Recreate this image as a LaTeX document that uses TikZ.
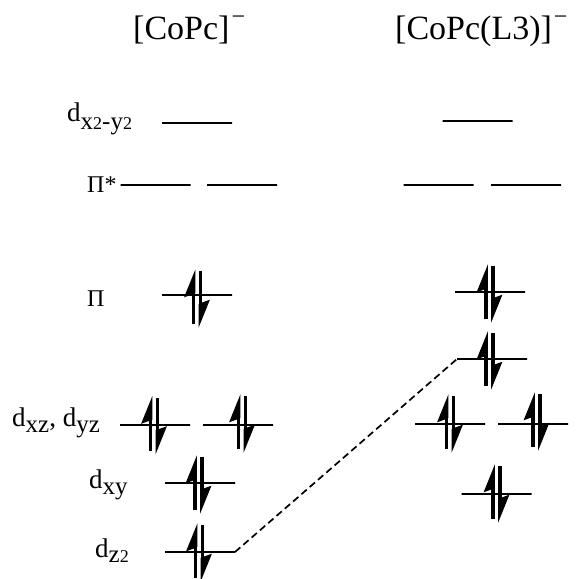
\documentclass[tikz,border=0pt]{standalone}
\usepackage{fontspec}
\setmainfont{Liberation Serif}
\usetikzlibrary{arrows.meta,calc}
\newcommand\orbsub[2][6pt]{\raisebox{-#1}{\fontsize{25}{25}\selectfont #2}}
\newcommand\smtwo{{\fontsize{18}{18}\selectfont 2}}
\newcommand\chargeminus{\kern2pt\raisebox{15pt}{\fontsize{24}{24}\selectfont −}}
\begin{document}
\begin{tikzpicture}[x=1pt,y=-1pt,
  lvl/.style={draw, line width=2pt, shape=rectangle, minimum width=70pt, minimum height=0pt, inner sep=0pt, outer sep=0pt},
  uparr/.style={line width=3.8pt, -{Stealth[harpoon,length=23pt,width=18pt,inset=3pt]}},
  dnarr/.style={line width=3.8pt, -{Stealth[harpoon,length=23pt,width=18pt,inset=3pt]}},
  lab/.style={anchor=base west, inner sep=0pt, font=\fontsize{27}{30}\selectfont},
  pilab/.style={anchor=base west, inner sep=0pt, font=\fontsize{24}{28}\selectfont},
  ttl/.style={anchor=base west, inner sep=0pt, font=\fontsize{34}{40}\selectfont},
  dashline/.style={line width=1.7pt, dash pattern=on 7pt off 4pt},
  pair/.pic={\draw[uparr] (-3.5,27) -- (-3.5,-28); \draw[dnarr] (3.5,-26) -- (3.5,31);}
]
\useasboundingbox (0,0) rectangle (579,579);
% titles
\node[ttl] (t1) at (133,39) {[CoPc]\chargeminus};
\node[ttl] (t2) at (395,39) {[CoPc(L3)]\chargeminus};
% left levels
\node[lvl] (Ldx) at (197,123) {};
\node[lvl] (Lps1) at (155.5,185) {};
\node[lvl] (Lps2) at (242,185) {};
\node[lvl] (Lpi) at (197,295) {};
\node[lvl] (Lxz1) at (155,425) {};
\node[lvl] (Lxz2) at (238,425) {};
\node[lvl] (Lxy) at (200,483) {};
\node[lvl] (Lz2) at (200,552) {};
% right levels
\node[lvl] (Rdx) at (477.5,121) {};
\node[lvl] (Rps1) at (438.5,185) {};
\node[lvl] (Rps2) at (526,185) {};
\node[lvl] (Rpi) at (490,292) {};
\node[lvl] (Rz2) at (492,359) {};
\node[lvl] (Rxz1) at (450,424) {};
\node[lvl] (Rxz2) at (533,424) {};
\node[lvl] (Rxy) at (496.5,494) {};
% labels
\node[lab] (lbdx) at (67,121) {d\orbsub[8pt]{x\smtwo-y\smtwo}};
\node[pilab] (lbps) at (87,192) {Π*};
\node[pilab] (lbpi) at (87,306) {Π};
\node[lab] (lbxz) at (12,426) {d\orbsub{xz}, d\orbsub{yz}};
\node[lab] (lbxy) at (89,488) {d\orbsub{xy}};
\node[lab] (lbz2) at (95,557) {d\orbsub[5pt]{z\smtwo}};
% electrons
\pic at ($(Lpi)+(0,2)$) {pair};
\pic at ($(Lxz1)+(-1,-1.5)$) {pair};
\pic at ($(Lxz2)+(4,-3)$) {pair};
\pic at ($(Lxy)+(-1.5,0)$) {pair};
\pic at ($(Lz2)+(-1,-1)$) {pair};
\pic at ($(Rpi)+(-0.5,0)$) {pair};
\pic at ($(Rz2)+(-2.5,0)$) {pair};
\pic at ($(Rxz1)+(0,-2)$) {pair};
\pic at ($(Rxz2)+(3.5,-4)$) {pair};
\pic at ($(Rxy)+(0,-2)$) {pair};
% correlation
\draw[dashline] (Lz2.east) -- (Rz2.west);
\end{tikzpicture}
\end{document}
